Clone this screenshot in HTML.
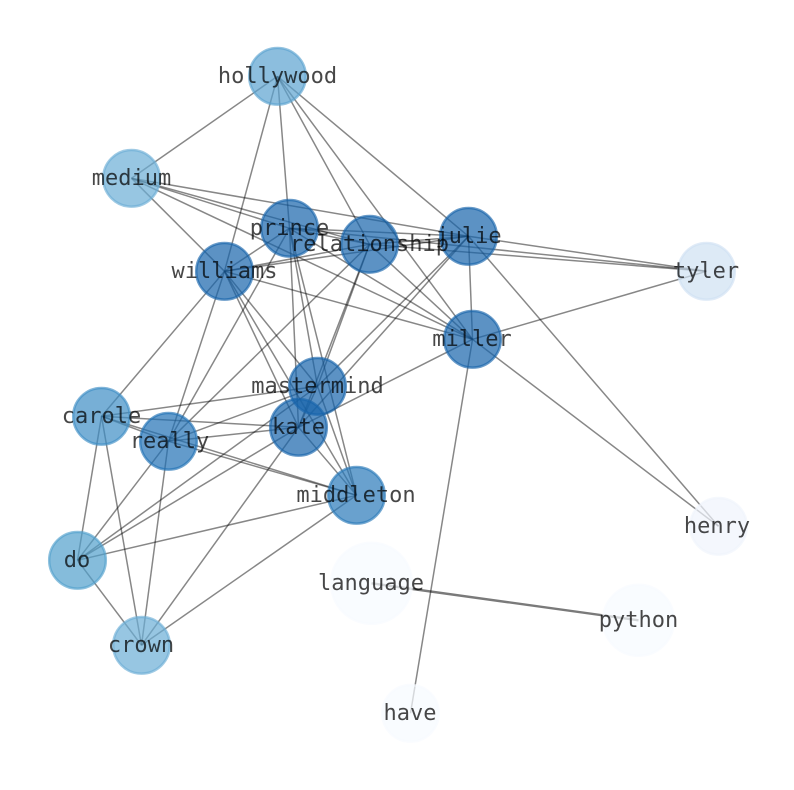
<!DOCTYPE html>
<html><head><meta charset="utf-8"><style>
html,body{margin:0;padding:0;background:#fff}
svg{display:block}
text{font-family:"DejaVu Sans Mono","Liberation Mono",monospace;font-size:22px;fill:#000;fill-opacity:.72;text-anchor:middle}
.e path{stroke:#000;stroke-opacity:.47;stroke-width:1.5;fill:none}
.n circle{fill-opacity:.7;stroke-opacity:.65;stroke-width:2.5}
</style></head><body>
<svg width="794" height="790" viewBox="0 0 794 790" xmlns="http://www.w3.org/2000/svg">
<g transform="translate(.5 .3)">
<g class="e">
<path d="M277 76L131 178"/><path d="M277 76L224 271"/><path d="M277 76L289 228"/><path d="M277 76L369 244"/><path d="M277 76L472 339"/><path d="M277 76L468 236"/>
<path d="M131 178L289 228"/><path d="M131 178L369 244"/><path d="M131 178L468 236"/><path d="M131 178L472 339"/><path d="M131 178L224 271"/>
<path d="M289 228L369 244"/><path d="M289 228L468 236"/><path d="M289 228L706 271"/><path d="M289 228L224 271"/><path d="M289 228L472 339"/><path d="M289 228L317 386"/><path d="M289 228L298 427"/><path d="M289 228L356 495"/><path d="M289 228L168 441"/>
<path d="M369 244L468 236"/><path d="M369 244L706 271"/><path d="M369 244L224 271"/><path d="M369 244L472 339"/><path d="M369 244L317 386"/><path d="M369 244L298 427"/><path d="M369 244L168 441"/>
<path d="M468 236L706 271"/><path d="M468 236L224 271"/><path d="M468 236L472 339"/><path d="M468 236L317 386"/><path d="M468 236L298 427"/><path d="M468 236L718 526"/>
<path d="M472 339L706 271"/><path d="M472 339L224 271"/><path d="M472 339L298 427"/><path d="M472 339L410 713"/><path d="M472 339L718 526"/>
<path d="M224 271L317 386"/><path d="M224 271L298 427"/><path d="M224 271L356 495"/><path d="M224 271L101 416"/><path d="M224 271L168 441"/>
<path d="M317 386L101 416"/><path d="M317 386L168 441"/><path d="M317 386L77 560"/><path d="M317 386L298 427"/><path d="M317 386L356 495"/>
<path d="M298 427L101 416"/><path d="M298 427L168 441"/><path d="M298 427L77 560"/><path d="M298 427L141 645"/><path d="M298 427L356 495"/>
<path d="M101 416L168 441"/><path d="M101 416L356 495"/><path d="M101 416L77 560"/><path d="M101 416L141 645"/>
<path d="M168 441L356 495"/><path d="M168 441L77 560"/><path d="M168 441L141 645"/>
<path d="M77 560L356 495"/><path d="M77 560L141 645"/><path d="M141 645L356 495"/>
<path d="M371 583L638 620" style="stroke-width:2.4;stroke-opacity:.52"/>
</g>
<g class="n">
<circle cx="277" cy="76" r="28.3" fill="#5ba3d0" stroke="#5ba3d0"/>
<circle cx="131" cy="178" r="28.3" fill="#6baed6" stroke="#6baed6"/>
<circle cx="289" cy="228" r="28.3" fill="#1764ab" stroke="#1764ab"/>
<circle cx="369" cy="244" r="28.3" fill="#1764ab" stroke="#1764ab"/>
<circle cx="468" cy="236" r="28.3" fill="#1764ab" stroke="#1764ab"/>
<circle cx="706" cy="271" r="28.3" fill="#cfe1f2" stroke="#cfe1f2"/>
<circle cx="224" cy="271" r="28.3" fill="#1764ab" stroke="#1764ab"/>
<circle cx="472" cy="339" r="28.3" fill="#1764ab" stroke="#1764ab"/>
<circle cx="317" cy="386" r="28.3" fill="#1764ab" stroke="#1764ab"/>
<circle cx="101" cy="416" r="28.3" fill="#3d8dc4" stroke="#3d8dc4"/>
<circle cx="168" cy="441" r="28.3" fill="#2171b5" stroke="#2171b5"/>
<circle cx="298" cy="427" r="28.3" fill="#1764ab" stroke="#1764ab"/>
<circle cx="356" cy="495" r="28.3" fill="#2979b9" stroke="#2979b9"/>
<circle cx="718" cy="526" r="28.3" fill="#eff4fc" stroke="#eff4fc"/>
<circle cx="77" cy="560" r="28.3" fill="#519fcc" stroke="#519fcc"/>
<circle cx="371" cy="583" r="40.5" fill="#f7fbff" stroke="#f7fbff"/>
<circle cx="638" cy="620" r="35.5" fill="#f7fbff" stroke="#f7fbff"/>
<circle cx="141" cy="645" r="28.3" fill="#6baed6" stroke="#6baed6"/>
<circle cx="410" cy="713" r="28.3" fill="#f7fbff" stroke="#f7fbff"/>
</g>
</g>
<g>
<text x="277.5" y="83">hollywood</text>
<text x="131.5" y="185">medium</text>
<text x="289.5" y="235">prince</text>
<text x="369.5" y="251">relationship</text>
<text x="468.5" y="243">julie</text>
<text x="706" y="278">tyler</text>
<text x="224.5" y="278">williams</text>
<text x="472" y="346">miller</text>
<text x="317.5" y="393">mastermind</text>
<text x="101.5" y="423">carole</text>
<text x="169.5" y="448">really</text>
<text x="298.5" y="434">kate</text>
<text x="356" y="502">middleton</text>
<text x="717" y="533">henry</text>
<text x="77" y="567">do</text>
<text x="371" y="590">language</text>
<text x="638.5" y="627">python</text>
<text x="141" y="652">crown</text>
<text x="410" y="720">have</text>
</g>
</svg>
</body></html>
